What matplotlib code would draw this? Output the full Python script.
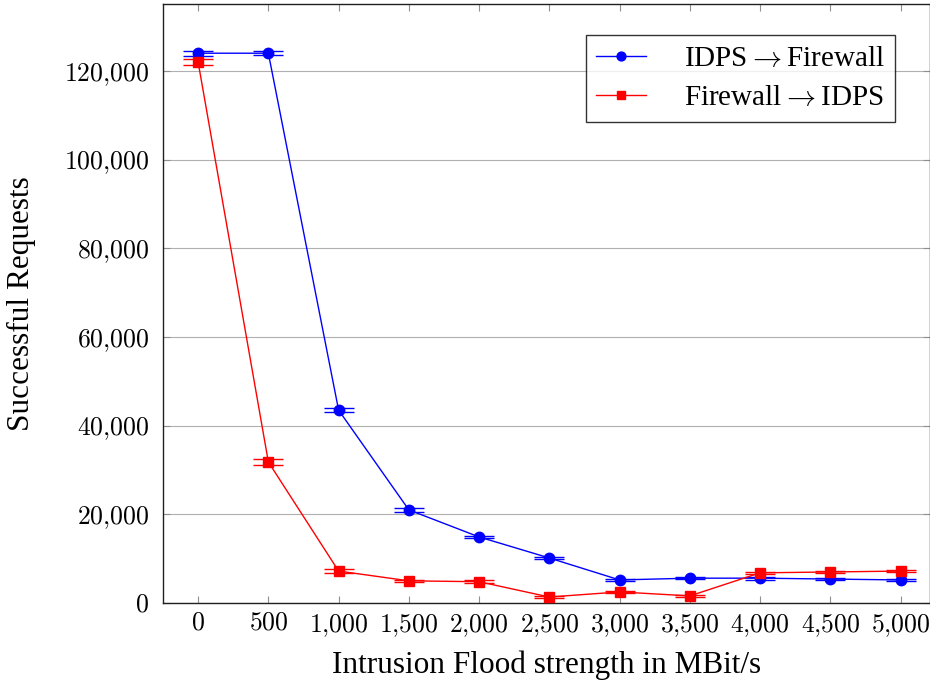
import matplotlib
matplotlib.use("Agg")
import matplotlib.pyplot as plt
from matplotlib.ticker import FuncFormatter
from matplotlib.lines import Line2D

plt.rcParams['mathtext.fontset'] = 'cm'
plt.rcParams['font.family'] = ['Liberation Serif', 'DejaVu Serif']

flood = [0, 500, 1000, 1500, 2000, 2500, 3000, 3500, 4000, 4500, 5000]
idps_fw = [124000, 124000, 43500, 21000, 14900, 10150, 5200, 5600, 5600, 5400, 5200]
idps_fw_err = [600, 400, 500, 500, 300, 300, 200, 200, 300, 200, 200]
fw_idps = [122000, 31800, 7200, 5000, 4800, 1350, 2500, 1600, 6800, 7000, 7200]
fw_idps_err = [700, 600, 400, 300, 300, 300, 300, 300, 300, 300, 300]
labels = [r'IDPS$\rightarrow$Firewall', r'Firewall$\rightarrow$IDPS']

fig = plt.figure(figsize=(9.3, 6.82), dpi=100)
ax = fig.add_axes([163/930, 79/682, 766.5/930, 599/682])

styles = [('#0000ff', 'o', 7.5), ('#ff0000', 's', 7)]
handles = []
for (color, mk, ms), ys, es, lab in zip(styles, [idps_fw, fw_idps],
                                        [idps_fw_err, fw_idps_err], labels):
    ax.errorbar(flood, ys, yerr=es, color=color, lw=1.0, marker=mk, ms=ms,
                capsize=11, capthick=1.0, elinewidth=1.0, ecolor=color,
                zorder=3)
    handles.append(Line2D([], [], color=color, lw=1.0, marker=mk, ms=ms * 0.85,
                          label=lab))

ax.set_xlim(-250, 5206)
ax.set_ylim(0, 135100)
ax.set_xticks(flood)
ax.set_yticks(range(0, 120001, 20000))

fmt = FuncFormatter(lambda v, p: r'$%s$' % ('{:,}'.format(int(v)).replace(',', '{,}')))
ax.xaxis.set_major_formatter(fmt)
ax.yaxis.set_major_formatter(fmt)

ax.yaxis.grid(True, color='#b0b0b0', lw=0.8)
ax.set_axisbelow(True)
ax.tick_params(axis='both', direction='in', length=5, color='#909090',
               labelsize=18.5, top=True, right=True)
ax.tick_params(axis='x', pad=7)
ax.tick_params(axis='y', pad=10)
for s in ax.spines.values():
    s.set_color('#202020')
    s.set_linewidth(1.0)

ax.set_xlabel('Intrusion Flood strength in MBit/s', fontsize=22.5, labelpad=8)
ax.set_ylabel('Successful Requests', fontsize=22.5, labelpad=20)

leg = ax.legend(handles=handles, loc='upper right',
                bbox_to_anchor=(0.955, 0.948), fontsize=21,
                frameon=True, fancybox=False, edgecolor='black',
                handlelength=1.7, handletextpad=1.3, borderpad=0.35,
                labelspacing=0.45, borderaxespad=0)
leg.get_frame().set_linewidth(1.0)

fig.savefig('out.png', dpi=100)
